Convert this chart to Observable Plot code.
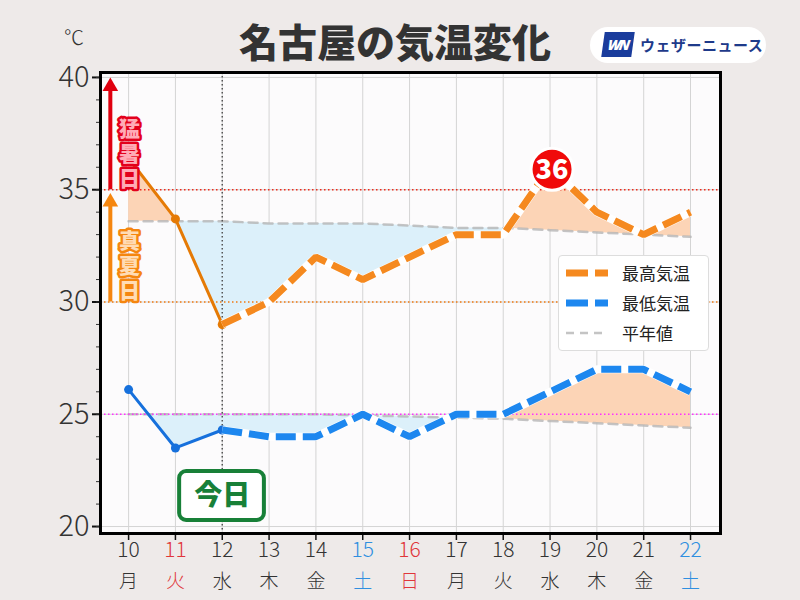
<!DOCTYPE html>
<html><head><meta charset="utf-8">
<script src="https://cdn.jsdelivr.net/npm/d3@7"></script>
<script src="https://cdn.jsdelivr.net/npm/@observablehq/plot@0.6"></script>
<style>
body{margin:0;background:#eeeae9;}
#wrap{position:relative;width:800px;height:600px;background:#eeeae9;font-family:'Noto Sans CJK JP','Noto Sans',sans-serif;overflow:hidden;color:#333}
#chart{position:absolute;left:0;top:0}
#title{position:absolute;left:239px;top:16px;font-size:39px;font-weight:900;color:#333;line-height:48px;white-space:nowrap}
#unit{position:absolute;left:64px;top:27px;font-size:20px;font-weight:300;color:#333;line-height:20px}
#logo{position:absolute;left:590px;top:27px;width:176px;height:36px;border-radius:18px;background:#fff}
#logo .wn{position:absolute;left:13px;top:5px;width:30px;height:25px;background:#1a3c9c;transform:skewX(-8deg);color:#fff;font:italic 900 14px 'Noto Sans',sans-serif;line-height:25px;text-align:center;letter-spacing:-2px}
#logo .txt{position:absolute;left:50px;top:6px;font-size:15px;font-weight:700;color:#1e3a8a;line-height:24px;letter-spacing:0.5px}
#legend{position:absolute;left:558px;top:255px;width:151px;height:96px;background:#fff;border:1px solid #ddd;border-radius:4px;box-sizing:border-box}
#legend .row{position:absolute;left:7px;height:24px;font-size:17px;line-height:24px;color:#222}
#legend svg{position:absolute;left:0;top:6px}
#legend span{position:absolute;left:56px;white-space:nowrap}
</style></head><body><div id="wrap">
<div id="chart"></div>
<div id="unit">℃</div>
<div id="title">名古屋の気温変化</div>
<div id="logo"><div class="wn">WN</div><div class="txt">ウェザーニュース</div></div>
<div id="legend"></div>
</div>
<script>
// ---- data ----
const days = [10, 11, 12, 13, 14, 15, 16, 17, 18, 19, 20, 21, 22];
const weekdays = ["月", "火", "水", "木", "金", "土", "日", "月", "火", "水", "木", "金", "土"];
const dayTypes = ["", "holiday", "", "", "", "sat", "sun", "", "", "", "", "", "sat"];
const highs = [36.4, 33.7, 29.0, 30.0, 32.0, 31.0, 32.0, 33.0, 33.0, 36.0, 34.0, 33.0, 34.0];
const normalHighs = [33.6, 33.6, 33.6, 33.5, 33.5, 33.5, 33.4, 33.3, 33.3, 33.2, 33.1, 33.0, 32.9];
const lows = [26.1, 23.5, 24.3, 24.0, 24.0, 25.0, 24.0, 25.0, 25.0, 26.0, 27.0, 27.0, 26.0];
const normalLows = [25.0, 25.0, 25.0, 25.0, 25.0, 24.95, 24.9, 24.85, 24.8, 24.7, 24.6, 24.5, 24.4];
const todayDay = 12;
const yTicks = [20, 25, 30, 35, 40];
const minorTicks = d3.range(20, 41);
const legendLabels = ["最高気温", "最低気温", "平年値"];
const zoneLabels = ["猛暑日", "真夏日"];

// ---- tables ----
const rows = days.map((d, i) => ({day: d, wd: weekdays[i], type: dayTypes[i], high: highs[i], nh: normalHighs[i], low: lows[i], nl: normalLows[i]}));
const past = rows.filter(r => r.day <= todayDay);
const fc = rows.filter(r => r.day >= todayDay);
const lowWarmRows = rows.filter(r => r.day >= 11);
const peak = fc.reduce((a, b) => (b.high > a.high ? b : a));

const ORANGE = "#f5891f", ORANGE_PAST = "#e57a05", BLUE = "#1d87ef", BLUE_PAST = "#1670dc";
const POS = "#fcd4b6", NEG = "#dcf0fa";
const dayColor = t => t === "sat" ? "#2f8fe0" : (t === "sun" || t === "holiday") ? "#e0363a" : "#333";

function diff(data, vKey, nKey, pos, neg) {
  if (Plot.differenceY) {
    return Plot.differenceY(data, {x: "day", y1: nKey, y2: vKey, positiveFill: pos, negativeFill: neg, fillOpacity: 1, stroke: "none", strokeOpacity: 0});
  }
  const out = [];
  if (pos !== "none") out.push(Plot.areaY(data, {x: "day", y1: nKey, y2: r => Math.max(r[vKey], r[nKey]), fill: pos}));
  if (neg !== "none") out.push(Plot.areaY(data, {x: "day", y1: nKey, y2: r => Math.min(r[vKey], r[nKey]), fill: neg}));
  return out;
}

const dashLine = (data, key, color) => [
  Plot.lineY(data, {x: "day", y: key, stroke: "white", strokeWidth: 8, strokeLinecap: "butt", strokeLinejoin: "miter"}),
  Plot.lineY(data, {x: "day", y: key, stroke: color, strokeWidth: 7, strokeDasharray: "20,7", strokeLinecap: "butt", strokeLinejoin: "miter"})
];

const chart = Plot.plot({
  width: 800, height: 600,
  marginTop: 72, marginRight: 80, marginBottom: 67, marginLeft: 100,
  x: {domain: [9.4, 22.64]},
  y: {domain: [19.69, 40.22]},
  color: {type: "identity"},
  style: {fontFamily: "'Noto Sans CJK JP','Noto Sans',sans-serif", background: "transparent", color: "#333", overflow: "visible"},
  marks: [
    Plot.frame({fill: "#fcfbfc"}),
    Plot.gridX(days, {stroke: "#d4d4d4", strokeOpacity: 1, strokeWidth: 1}),
    Plot.gridY(yTicks, {stroke: "#d4d4d4", strokeOpacity: 1, strokeWidth: 1}),
    diff(rows, "high", "nh", POS, NEG),
    diff(rows, "low", "nl", "none", NEG),
    diff(lowWarmRows, "low", "nl", POS, "none"),
    Plot.lineY(rows, {x: "day", y: "nh", stroke: "#b5b5b5", strokeOpacity: 0.8, strokeWidth: 2.5, strokeDasharray: "9,6"}),
    Plot.lineY(rows, {x: "day", y: "nl", stroke: "#b5b5b5", strokeOpacity: 0.8, strokeWidth: 2.5, strokeDasharray: "9,6"}),
    Plot.ruleY([35], {stroke: "#ee2a1a", strokeWidth: 1.6, strokeDasharray: "1.5,2.5"}),
    Plot.ruleY([30], {stroke: "#f07a10", strokeWidth: 1.6, strokeDasharray: "1.5,2.5"}),
    Plot.ruleY([25], {stroke: "#ff30ff", strokeWidth: 1.4, strokeDasharray: "1.5,2.5"}),
    Plot.ruleX([todayDay], {stroke: "#555", strokeWidth: 1.5, strokeDasharray: "1.5,2.5"}),
    // past observations
    Plot.lineY(past, {x: "day", y: "high", stroke: ORANGE_PAST, strokeWidth: 3}),
    Plot.dot(past, {x: "day", y: "high", r: 4.5, fill: ORANGE_PAST}),
    Plot.lineY(past, {x: "day", y: "low", stroke: BLUE_PAST, strokeWidth: 3}),
    Plot.dot(past, {x: "day", y: "low", r: 4.5, fill: BLUE_PAST}),
    // forecast
    dashLine(fc, "high", ORANGE),
    dashLine(fc, "low", BLUE),
    // axes
    Plot.axisY(yTicks, {tickSize: 8, tickPadding: 3, fontSize: 29, fontWeight: 300, fill: "#333", stroke: "#111", strokeWidth: 2, label: null}),
    Plot.axisY(minorTicks, {tickSize: 4, tickFormat: () => "", stroke: "#333", strokeWidth: 1, label: null}),
    Plot.axisX(days, {tickSize: 7, tickFormat: () => "", stroke: "#111", strokeWidth: 1.5, label: null}),
    Plot.text(rows, {x: "day", text: d => String(d.day), frameAnchor: "bottom", dy: 23, fontSize: 21, fontWeight: 300, fill: d => dayColor(d.type)}),
    Plot.text(rows, {x: "day", text: "wd", frameAnchor: "bottom", dy: 54, fontSize: 19, fontWeight: 300, fill: d => dayColor(d.type)}),
    Plot.frame({stroke: "#000", strokeWidth: 3}),
    // annotations: 猛暑日 / 真夏日 arrows
    Plot.ruleX([9.61], {y1: 35, y2: 39.5, stroke: "#e0000f", strokeWidth: 4}),
    Plot.dot([0], {x: 9.61, y: 39.6, symbol: "triangle", r: 5.8, fill: "#e0000f"}),
    Plot.ruleX([9.61], {y1: 30, y2: 34.3, stroke: "#f5860f", strokeWidth: 4}),
    Plot.dot([0], {x: 9.61, y: 34.45, symbol: "triangle", r: 5.8, fill: "#f5860f"}),
    Plot.text([zoneLabels[0]], {x: 10.02, y: 36.84, fontSize: 21, fontWeight: "900", fill: "#ffabb6", stroke: "#e3001b", strokeWidth: 5, paintOrder: "stroke", strokeLinejoin: "round"}),
    Plot.text([zoneLabels[1]], {x: 10.02, y: 31.85, fontSize: 21, fontWeight: "900", fill: "#ffdcb5", stroke: "#f5860f", strokeWidth: 5, paintOrder: "stroke", strokeLinejoin: "round"}),
    // peak badge
    Plot.dot([peak], {x: "day", y: "high", r: 21, dx: 2, dy: 2, fill: "#f00a0a", stroke: "white", strokeWidth: 3}),
    Plot.text([peak], {x: "day", y: "high", dx: 2, dy: 3, text: d => d3.format(".0f")(d.high), fill: "white", fontSize: 27, fontWeight: "900"}),
    // today badge
    Plot.rect([0], {x1: 11.09, x2: 12.9, y1: 20.27, y2: 22.45, rx: 7, fill: "white", stroke: "#188038", strokeWidth: 4}),
    Plot.text(["今日"], {x: todayDay, y: 21.36, fontSize: 28, fontWeight: "900", fill: "#188038"})
  ]
});
// set the zone labels to vertical writing
chart.querySelectorAll("text").forEach(t => {
  if (zoneLabels.includes(t.textContent)) {
    t.removeAttribute("dy");
    t.style.writingMode = "vertical-rl";
    t.style.letterSpacing = "4px";
    t.setAttribute("dominant-baseline", "central");
  }
});
document.getElementById("chart").appendChild(chart);

// legend
const legendStyles = [
  {stroke: ORANGE, width: 7, dash: "22,7"},
  {stroke: BLUE, width: 7, dash: "22,7"},
  {stroke: "#c4c4c4", width: 2.5, dash: "8,6"}
];
const leg = document.getElementById("legend");
legendLabels.forEach((lab, i) => {
  const s = legendStyles[i];
  const row = document.createElement("div");
  row.className = "row";
  row.style.top = (5 + i * 30) + "px";
  row.innerHTML = `<svg width="44" height="12"><line x1="0" y1="6" x2="42" y2="6" stroke="${s.stroke}" stroke-width="${s.width}" stroke-dasharray="${s.dash}"/></svg><span>${lab}</span>`;
  leg.appendChild(row);
});
</script>
</body></html>
